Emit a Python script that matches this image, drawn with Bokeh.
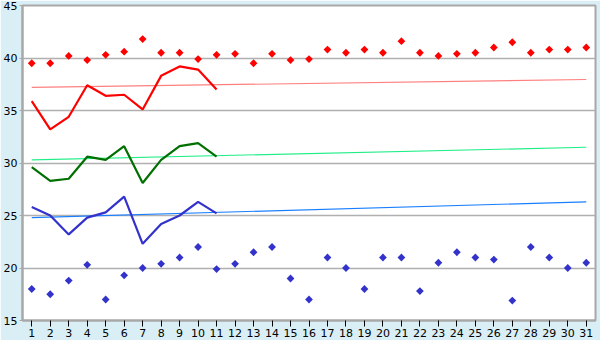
import math
from bokeh.plotting import figure
from bokeh.models import Range1d, FixedTicker
from bokeh.embed import file_html
from bokeh.resources import INLINE

days = list(range(1, 32))
y_ticks = [15, 20, 25, 30, 35, 40, 45]

# record high (red diamonds) and record low (blue diamonds)
rec_high = [39.5, 39.5, 40.2, 39.8, 40.3, 40.6, 41.8, 40.5, 40.5, 39.9,
            40.3, 40.4, 39.5, 40.4, 39.8, 39.9, 40.8, 40.5, 40.8, 40.5,
            41.6, 40.5, 40.2, 40.4, 40.5, 41.0, 41.5, 40.5, 40.8, 40.8, 41.0]
rec_low = [18.0, 17.5, 18.8, 20.3, 17.0, 19.3, 20.0, 20.4, 21.0, 22.0,
           19.9, 20.4, 21.5, 22.0, 19.0, 17.0, 21.0, 20.0, 18.0, 21.0,
           21.0, 17.8, 20.5, 21.5, 21.0, 20.8, 16.9, 22.0, 21.0, 20.0, 20.5]

# observed series for days 1-11
obs_days = list(range(1, 12))
obs_max = [35.9, 33.2, 34.4, 37.4, 36.4, 36.5, 35.1, 38.3, 39.2, 38.9, 37.0]
obs_mean = [29.6, 28.3, 28.5, 30.6, 30.3, 31.6, 28.1, 30.3, 31.6, 31.9, 30.6]
obs_min = [25.8, 25.0, 23.2, 24.8, 25.3, 26.8, 22.3, 24.2, 25.0, 26.3, 25.2]

# normal (trend) lines: values at day 1 and day 31
trend_days = [1, 31]
norm_max = [37.2, 37.95]
norm_mean = [30.3, 31.5]
norm_min = [24.8, 26.3]

p = figure(width=600, height=340, output_backend="svg", toolbar_location=None,
           x_range=Range1d(0.5, 31.5), y_range=Range1d(15, 45),
           min_border_left=21, min_border_right=5, min_border_top=5, min_border_bottom=20)
p.border_fill_color = "#DAEFF5"
p.background_fill_color = "white"
p.outline_line_color = "#A8A8A8"
p.outline_line_width = 2

p.xgrid.visible = False
p.ygrid.grid_line_color = "#B0B0B0"
p.ygrid.grid_line_width = 1.5
p.ygrid.ticker = FixedTicker(ticks=y_ticks)

p.xaxis.ticker = FixedTicker(ticks=days)
p.yaxis.ticker = FixedTicker(ticks=y_ticks)
for ax in (p.xaxis[0], p.yaxis[0]):
    ax.axis_line_color = "#A8A8A8"
    ax.axis_line_width = 2
    ax.major_label_text_font = "DejaVu Sans"
    ax.major_label_text_font_size = "11px"
    ax.major_label_text_color = "black"
    ax.minor_tick_line_color = None
    ax.major_tick_in = 0
p.xaxis.major_tick_out = 6
p.xaxis.major_tick_line_color = "black"
p.xaxis.major_label_standoff = 2
p.yaxis.major_tick_out = 3
p.yaxis.major_tick_line_color = "#A8A8A8"
p.yaxis.major_label_standoff = 2

# trend lines
p.line(trend_days, norm_max, line_color="#FF7F7F", line_width=1.2)
p.line(trend_days, norm_mean, line_color="#22EE88", line_width=1.2)
p.line(trend_days, norm_min, line_color="#1A7FFF", line_width=1.2)

# observed
p.line(obs_days, obs_max, line_color="#FF0000", line_width=2.2)
p.line(obs_days, obs_mean, line_color="#007000", line_width=2.2)
p.line(obs_days, obs_min, line_color="#3333CC", line_width=2.2)

# records
p.scatter(days, rec_high, marker="square", angle=math.pi / 4, size=5.5,
          fill_color="#FF0000", line_color=None)
p.scatter(days, rec_low, marker="square", angle=math.pi / 4, size=5.5,
          fill_color="#3333CC", line_color=None)

open("out.html", "w").write(file_html(p, INLINE))
